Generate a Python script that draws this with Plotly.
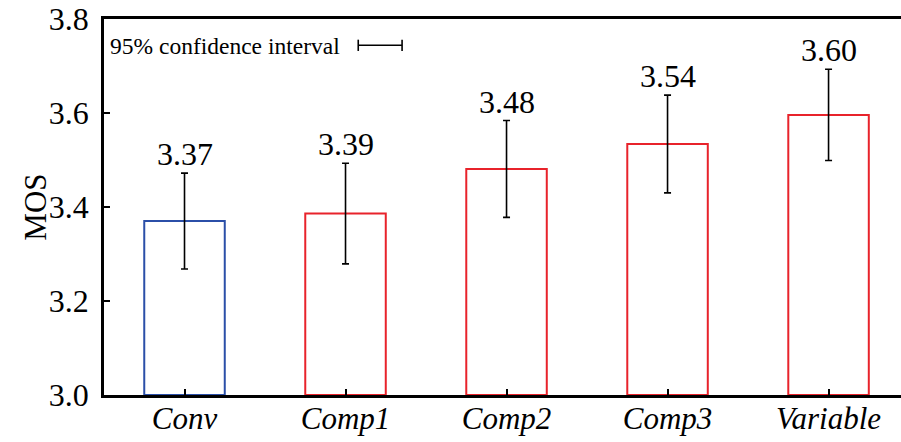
import plotly.graph_objects as go

categories = ["Conv", "Comp1", "Comp2", "Comp3", "Variable"]
mos = [3.370, 3.386, 3.481, 3.534, 3.596]
ci = [0.102, 0.107, 0.103, 0.104, 0.097]
labels = ["3.37", "3.39", "3.48", "3.54", "3.60"]
edge_colors = ["#2b4fa8", "#e8232b", "#e8232b", "#e8232b", "#e8232b"]
yticks = [3.0, 3.2, 3.4, 3.6, 3.8]

FONT = "Liberation Serif"

fig = go.Figure()
fig.add_trace(go.Bar(
    x=list(range(len(categories))), y=[m - 3.0 for m in mos], base=3.0,
    width=0.5,
    marker=dict(color="rgba(255,255,255,0)", line=dict(color=edge_colors, width=2)),
    error_y=dict(type="data", array=ci, visible=True, color="black", thickness=1.6, width=3.5),
    showlegend=False, hoverinfo="skip",
))

for i, (m, e, t) in enumerate(zip(mos, ci, labels)):
    fig.add_annotation(x=i, y=m + e, text=t, showarrow=False, yanchor="bottom",
                       yshift=-1, font=dict(family=FONT, size=32, color="black"))

# y-axis title
fig.add_annotation(xref="paper", yref="paper", x=-0.087, y=0.5, text="MOS", textangle=-90,
                   showarrow=False, xanchor="center", yanchor="middle",
                   font=dict(family=FONT, size=31, color="black"))

# legend-like caption
fig.add_annotation(xref="paper", yref="paper", x=0.005, y=0.927, text="95% confidence interval",
                   showarrow=False, xanchor="left", yanchor="middle",
                   font=dict(family=FONT, size=23.5, color="black"))
for shp in [
    dict(x0=0.319, x1=0.374, y0=0.93, y1=0.93),
    dict(x0=0.319, x1=0.319, y0=0.915, y1=0.945),
    dict(x0=0.374, x1=0.374, y0=0.915, y1=0.945),
]:
    fig.add_shape(type="line", xref="paper", yref="paper", line=dict(color="black", width=1.6), **shp)

fig.update_layout(
    width=901, height=442,
    margin=dict(l=104, r=0, t=19, b=47, autoexpand=False),
    paper_bgcolor="white", plot_bgcolor="white",
    font=dict(family=FONT, color="black"),
    bargap=0.5,
)
fig.update_xaxes(
    range=[-0.5, 4.45], tickmode="array", tickvals=list(range(len(categories))),
    ticktext=[f"<i>{c}</i>" for c in categories],
    ticks="inside", ticklen=6, tickwidth=1.5, tickcolor="black",
    showline=True, linecolor="black", linewidth=2.5, mirror=True,
    showgrid=False, zeroline=False, tickfont=dict(family=FONT, size=31),
    automargin=False, ticklabelstandoff=-6, ticklabeloverflow="allow",
)
fig.update_yaxes(
    range=[3.0, 3.8], tickmode="array", tickvals=yticks,
    ticktext=[f"{v:.1f}" for v in yticks],
    ticks="inside", ticklen=6, tickwidth=1.5, tickcolor="black",
    showline=True, linecolor="black", linewidth=2.5,
    showgrid=False, zeroline=False, tickfont=dict(family=FONT, size=32),
    ticklabelstandoff=6, automargin=False, ticklabeloverflow="allow",
)

fig.write_html(
    "out.html",
    config={"displayModeBar": False},
    post_script="document.body.style.margin='0';document.body.style.overflow='hidden';",
)
